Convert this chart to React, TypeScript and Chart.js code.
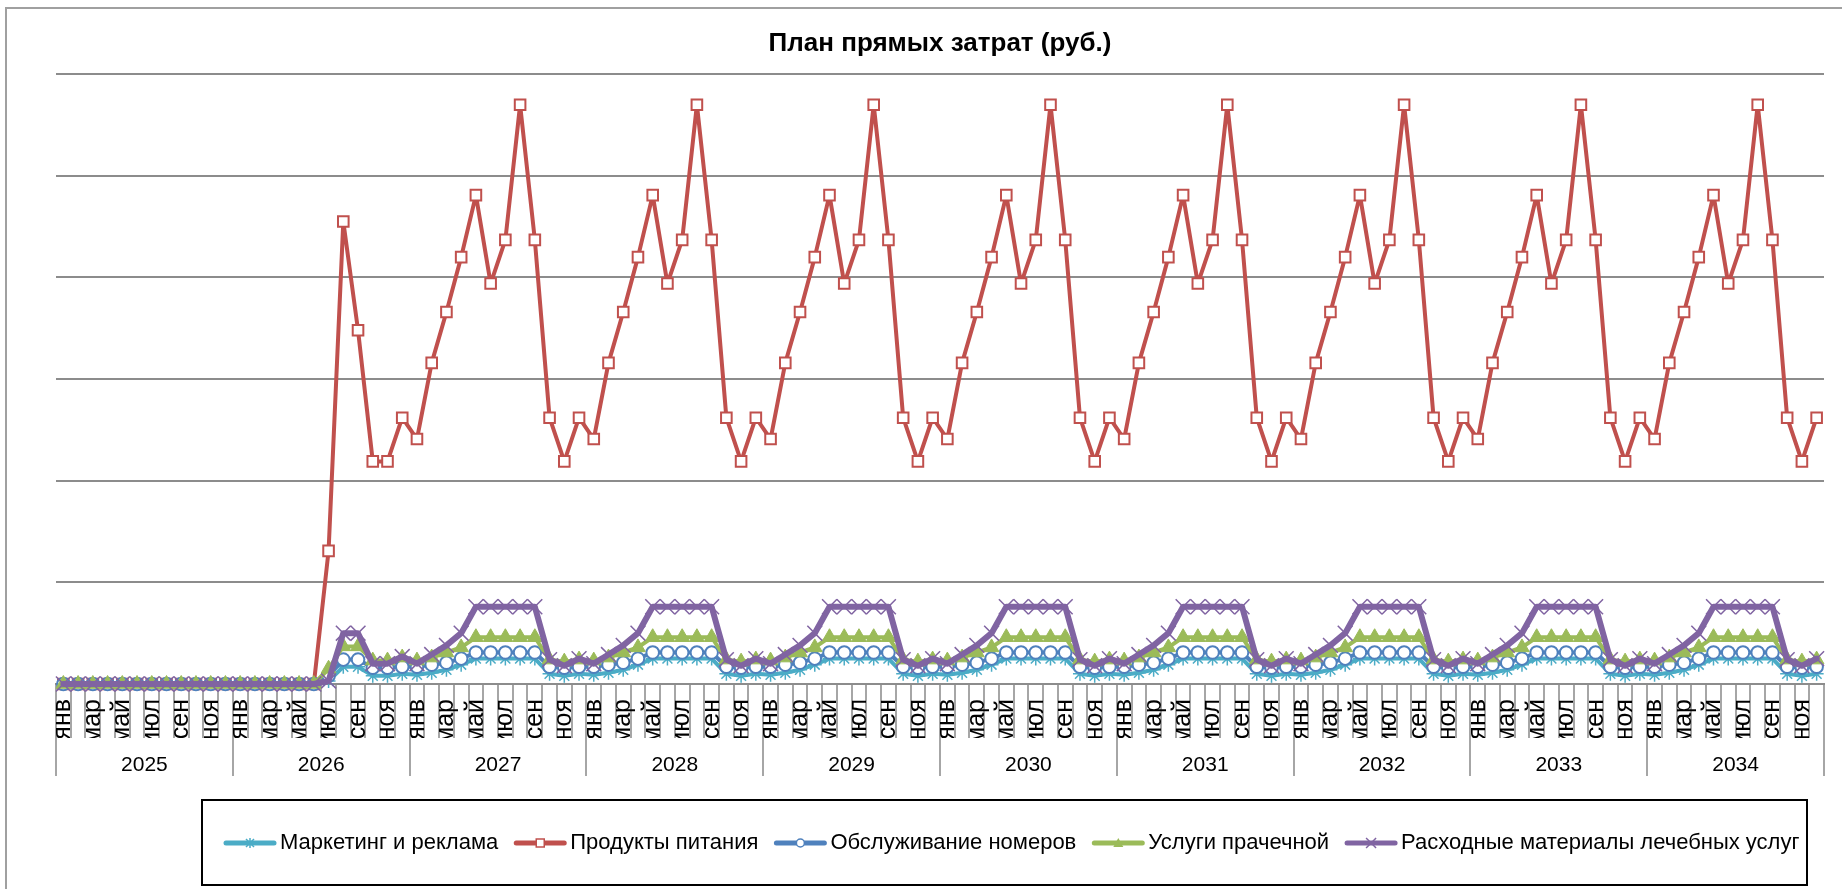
import { useEffect, useRef } from 'react';
import { Chart, registerables } from 'chart.js';

Chart.register(...registerables);

const TITLE = 'План прямых затрат (руб.)';
const YEARS = ['2025', '2026', '2027', '2028', '2029', '2030', '2031', '2032', '2033', '2034'];
const MONTHS = ['янв', 'фев', 'мар', 'апр', 'май', 'июн', 'июл', 'авг', 'сен', 'окт', 'ноя', 'дек'];
const CATEGORIES: string[] = YEARS.flatMap(() => MONTHS);

const SERIES_NAMES = [
  'Маркетинг и реклама',
  'Продукты питания',
  'Обслуживание номеров',
  'Услуги прачечной',
  'Расходные материалы лечебных услуг',
];

const MARKETING = [
  0, 0, 0, 0, 0, 0, 0, 0, 0, 0, 0, 0,
  0, 0, 0, 0, 0, 0, 300, 1700, 1700, 800, 800, 1000,
  900, 1100, 1400, 1900, 2500, 2500, 2500, 2500, 2500, 1000, 800, 1000,
  900, 1100, 1400, 1900, 2500, 2500, 2500, 2500, 2500, 1000, 800, 1000,
  900, 1100, 1400, 1900, 2500, 2500, 2500, 2500, 2500, 1000, 800, 1000,
  900, 1100, 1400, 1900, 2500, 2500, 2500, 2500, 2500, 1000, 800, 1000,
  900, 1100, 1400, 1900, 2500, 2500, 2500, 2500, 2500, 1000, 800, 1000,
  900, 1100, 1400, 1900, 2500, 2500, 2500, 2500, 2500, 1000, 800, 1000,
  900, 1100, 1400, 1900, 2500, 2500, 2500, 2500, 2500, 1000, 800, 1000,
  900, 1100, 1400, 1900, 2500, 2500, 2500, 2500, 2500, 1000, 800, 1000,
];

const FOOD = [
  0, 0, 0, 0, 0, 0, 0, 0, 0, 0, 0, 0,
  0, 0, 0, 0, 0, 0, 13100, 45500, 34800, 21900, 21900, 26200,
  24100, 31600, 36600, 42000, 48100, 39400, 43700, 57000, 43700, 26200, 21900, 26200,
  24100, 31600, 36600, 42000, 48100, 39400, 43700, 57000, 43700, 26200, 21900, 26200,
  24100, 31600, 36600, 42000, 48100, 39400, 43700, 57000, 43700, 26200, 21900, 26200,
  24100, 31600, 36600, 42000, 48100, 39400, 43700, 57000, 43700, 26200, 21900, 26200,
  24100, 31600, 36600, 42000, 48100, 39400, 43700, 57000, 43700, 26200, 21900, 26200,
  24100, 31600, 36600, 42000, 48100, 39400, 43700, 57000, 43700, 26200, 21900, 26200,
  24100, 31600, 36600, 42000, 48100, 39400, 43700, 57000, 43700, 26200, 21900, 26200,
  24100, 31600, 36600, 42000, 48100, 39400, 43700, 57000, 43700, 26200, 21900, 26200,
];

const ROOM_SERVICE = [
  0, 0, 0, 0, 0, 0, 0, 0, 0, 0, 0, 0,
  0, 0, 0, 0, 0, 0, 800, 2400, 2400, 1600, 1600, 1700,
  1700, 1900, 2100, 2500, 3100, 3100, 3100, 3100, 3100, 1700, 1600, 1700,
  1700, 1900, 2100, 2500, 3100, 3100, 3100, 3100, 3100, 1700, 1600, 1700,
  1700, 1900, 2100, 2500, 3100, 3100, 3100, 3100, 3100, 1700, 1600, 1700,
  1700, 1900, 2100, 2500, 3100, 3100, 3100, 3100, 3100, 1700, 1600, 1700,
  1700, 1900, 2100, 2500, 3100, 3100, 3100, 3100, 3100, 1700, 1600, 1700,
  1700, 1900, 2100, 2500, 3100, 3100, 3100, 3100, 3100, 1700, 1600, 1700,
  1700, 1900, 2100, 2500, 3100, 3100, 3100, 3100, 3100, 1700, 1600, 1700,
  1700, 1900, 2100, 2500, 3100, 3100, 3100, 3100, 3100, 1700, 1600, 1700,
];

const LAUNDRY = [
  0, 0, 0, 0, 0, 0, 0, 0, 0, 0, 0, 0,
  0, 0, 0, 0, 0, 0, 1500, 3700, 3700, 2300, 2300, 2600,
  2300, 2600, 3100, 3600, 4600, 4600, 4600, 4600, 4600, 2400, 2200, 2400,
  2300, 2600, 3100, 3600, 4600, 4600, 4600, 4600, 4600, 2400, 2200, 2400,
  2300, 2600, 3100, 3600, 4600, 4600, 4600, 4600, 4600, 2400, 2200, 2400,
  2300, 2600, 3100, 3600, 4600, 4600, 4600, 4600, 4600, 2400, 2200, 2400,
  2300, 2600, 3100, 3600, 4600, 4600, 4600, 4600, 4600, 2400, 2200, 2400,
  2300, 2600, 3100, 3600, 4600, 4600, 4600, 4600, 4600, 2400, 2200, 2400,
  2300, 2600, 3100, 3600, 4600, 4600, 4600, 4600, 4600, 2400, 2200, 2400,
  2300, 2600, 3100, 3600, 4600, 4600, 4600, 4600, 4600, 2400, 2200, 2400,
];

const SUPPLIES = [
  0, 0, 0, 0, 0, 0, 0, 0, 0, 0, 0, 0,
  0, 0, 0, 0, 0, 0, 300, 5000, 5000, 2000, 2000, 2700,
  2000, 2900, 3800, 5000, 7600, 7600, 7600, 7600, 7600, 2400, 1800, 2500,
  2000, 2900, 3800, 5000, 7600, 7600, 7600, 7600, 7600, 2400, 1800, 2500,
  2000, 2900, 3800, 5000, 7600, 7600, 7600, 7600, 7600, 2400, 1800, 2500,
  2000, 2900, 3800, 5000, 7600, 7600, 7600, 7600, 7600, 2400, 1800, 2500,
  2000, 2900, 3800, 5000, 7600, 7600, 7600, 7600, 7600, 2400, 1800, 2500,
  2000, 2900, 3800, 5000, 7600, 7600, 7600, 7600, 7600, 2400, 1800, 2500,
  2000, 2900, 3800, 5000, 7600, 7600, 7600, 7600, 7600, 2400, 1800, 2500,
  2000, 2900, 3800, 5000, 7600, 7600, 7600, 7600, 7600, 2400, 1800, 2500,
];

const Y_MAX = 60000;
const Y_STEP = 10000;

const FONT = '"Liberation Sans", Arial, sans-serif';
const NARROW = '"Liberation Sans Narrow", "Arial Narrow", "Liberation Sans", Arial, sans-serif';

function drawMarker(ctx: CanvasRenderingContext2D, style: string, x: number, y: number, color: string) {
  ctx.save();
  ctx.lineCap = 'butt';
  ctx.strokeStyle = color;
  ctx.lineWidth = 1.5;
  if (style === 'rect') {
    ctx.fillStyle = '#fff';
    ctx.fillRect(x - 4, y - 4, 8, 8);
    ctx.strokeRect(x - 4, y - 4, 8, 8);
  } else if (style === 'circle') {
    ctx.fillStyle = '#fff';
    ctx.beginPath();
    ctx.arc(x, y, 4, 0, Math.PI * 2);
    ctx.fill();
    ctx.stroke();
  } else if (style === 'triangle') {
    ctx.fillStyle = color;
    ctx.beginPath();
    ctx.moveTo(x, y - 5);
    ctx.lineTo(x + 5, y + 4);
    ctx.lineTo(x - 5, y + 4);
    ctx.closePath();
    ctx.fill();
  } else if (style === 'star') {
    ctx.beginPath();
    ctx.moveTo(x, y - 5); ctx.lineTo(x, y + 5);
    ctx.moveTo(x - 4, y - 4); ctx.lineTo(x + 4, y + 4);
    ctx.moveTo(x + 4, y - 4); ctx.lineTo(x - 4, y + 4);
    ctx.stroke();
  } else if (style === 'crossRot') {
    ctx.beginPath();
    ctx.moveTo(x - 5, y - 5); ctx.lineTo(x + 5, y + 5);
    ctx.moveTo(x + 5, y - 5); ctx.lineTo(x - 5, y + 5);
    ctx.stroke();
  }
  ctx.restore();
}

const framePlugin = {
  id: 'frame',
  beforeDraw(chart: any) {
    const ctx = chart.ctx as CanvasRenderingContext2D;
    ctx.save();
    ctx.fillStyle = '#fff';
    ctx.fillRect(0, 0, chart.width, chart.height);
    ctx.strokeStyle = '#a0a0a0';
    ctx.lineWidth = 2;
    ctx.beginPath();
    ctx.moveTo(6, chart.height + 5);
    ctx.lineTo(6, 8);
    ctx.lineTo(chart.width + 5, 8);
    ctx.stroke();
    ctx.restore();
  },
};

const boxLegendPlugin = {
  id: 'boxLegend',
  afterDraw(chart: any) {
    const ctx = chart.ctx as CanvasRenderingContext2D;
    ctx.save();
    ctx.strokeStyle = '#000';
    ctx.lineWidth = 2;
    ctx.strokeRect(202, 800, 1605, 85);
    ctx.font = `22px ${FONT}`;
    ctx.textBaseline = 'middle';
    ctx.textAlign = 'left';
    const y = 843;
    let x = 223;
    chart.data.datasets.forEach((ds: any) => {
      ctx.strokeStyle = ds.borderColor;
      ctx.lineWidth = 5;
      ctx.lineCap = 'round';
      ctx.beginPath();
      ctx.moveTo(x + 3, y);
      ctx.lineTo(x + 51, y);
      ctx.stroke();
      drawMarker(ctx, ds.pointStyle, x + 27, y, ds.borderColor);
      ctx.fillStyle = '#000';
      ctx.fillText(ds.label, x + 57, y);
      x += 57 + ctx.measureText(ds.label).width + 15;
    });
    ctx.restore();
  },
};

const common = {
  borderJoinStyle: 'round',
  borderCapStyle: 'round',
  clip: false,
};

export default function App() {
  const ref = useRef<HTMLCanvasElement>(null);

  useEffect(() => {
    if (!ref.current) return;
    const chart = new Chart(ref.current, {
      type: 'line',
      data: {
        labels: CATEGORIES,
        datasets: [
          {
            ...common,
            label: SERIES_NAMES[0],
            data: MARKETING,
            borderColor: '#4BACC6',
            backgroundColor: '#4BACC6',
            borderWidth: 4,
            pointStyle: 'star',
            pointRadius: 7,
            pointBorderWidth: 1.5,
            pointBorderColor: '#4BACC6',
            pointBackgroundColor: '#4BACC6',
            order: 4,
          },
          {
            ...common,
            label: SERIES_NAMES[1],
            data: FOOD,
            borderColor: '#C0504D',
            backgroundColor: '#C0504D',
            borderWidth: 4,
            pointStyle: 'rect',
            pointRadius: 7.5,
            pointBorderWidth: 2,
            pointBorderColor: '#C0504D',
            pointBackgroundColor: '#ffffff',
            order: 3,
          },
          {
            ...common,
            label: SERIES_NAMES[2],
            data: ROOM_SERVICE,
            borderColor: '#4F81BD',
            backgroundColor: '#4F81BD',
            borderWidth: 4,
            pointStyle: 'circle',
            pointRadius: 6.3,
            pointBorderWidth: 2,
            pointBorderColor: '#4F81BD',
            pointBackgroundColor: '#ffffff',
            order: 2,
          },
          {
            ...common,
            label: SERIES_NAMES[3],
            data: LAUNDRY,
            borderColor: '#9BBB59',
            backgroundColor: '#9BBB59',
            borderWidth: 4,
            pointStyle: 'triangle',
            pointRadius: 8.5,
            pointBorderWidth: 1,
            pointBorderColor: '#9BBB59',
            pointBackgroundColor: '#9BBB59',
            order: 1,
          },
          {
            ...common,
            label: SERIES_NAMES[4],
            data: SUPPLIES,
            borderColor: '#8064A2',
            backgroundColor: '#8064A2',
            borderWidth: 6,
            pointStyle: 'crossRot',
            pointRadius: 10.5,
            pointBorderWidth: 1.5,
            pointBorderColor: '#8064A2',
            pointBackgroundColor: '#8064A2',
            order: 0,
          },
        ] as any,
      },
      options: {
        responsive: false,
        animation: false,
        devicePixelRatio: 1,
        events: [],
        elements: { line: { tension: 0 } },
        layout: { padding: { left: 56, right: 18, top: 0, bottom: 113 } },
        plugins: {
          legend: { display: false },
          tooltip: { enabled: false },
          title: {
            display: true,
            text: TITLE,
            color: '#000',
            font: { family: FONT, size: 26, weight: 'bold' },
            padding: { top: 28, bottom: 15 },
          },
        },
        scales: {
          x: {
            type: 'category',
            offset: true,
            grid: {
              offset: true,
              drawOnChartArea: false,
              drawTicks: true,
              tickLength: 54,
              color: '#a6a6a6',
              lineWidth: 2,
            },
            border: { display: true, color: '#8c8c8c', width: 2 },
            ticks: {
              autoSkip: false,
              minRotation: 90,
              maxRotation: 90,
              padding: -39,
              color: '#000',
              font: { family: NARROW, size: 25 },
              callback: (_v: any, i: number) => (i % 2 === 0 ? CATEGORIES[i] : ''),
            },
            afterFit: (s: any) => { s.height = 54; },
          },
          x2: {
            type: 'category',
            position: 'bottom',
            labels: YEARS,
            offset: true,
            grid: {
              offset: true,
              drawOnChartArea: false,
              drawTicks: true,
              tickLength: 38,
              color: '#a6a6a6',
              lineWidth: 2,
            },
            border: { display: false },
            ticks: {
              autoSkip: false,
              maxRotation: 0,
              minRotation: 0,
              padding: -23.6,
              color: '#000',
              font: { family: FONT, size: 21 },
            },
            afterFit: (s: any) => { s.height = 38; },
          },
          y: {
            min: 0,
            max: Y_MAX,
            ticks: { display: false, stepSize: Y_STEP },
            grid: { color: '#8c8c8c', lineWidth: 2, drawTicks: false },
            border: { display: false },
            afterFit: (s: any) => { s.width = 0; },
          },
        },
      } as any,
      plugins: [framePlugin, boxLegendPlugin],
    });
    return () => chart.destroy();
  }, []);

  return (
    <div style={{ position: 'absolute', left: 0, top: 0, width: 1842, height: 889, overflow: 'hidden' }}>
      <canvas ref={ref} width={1842} height={889} style={{ display: 'block', width: 1842, height: 889 }} />
    </div>
  );
}
